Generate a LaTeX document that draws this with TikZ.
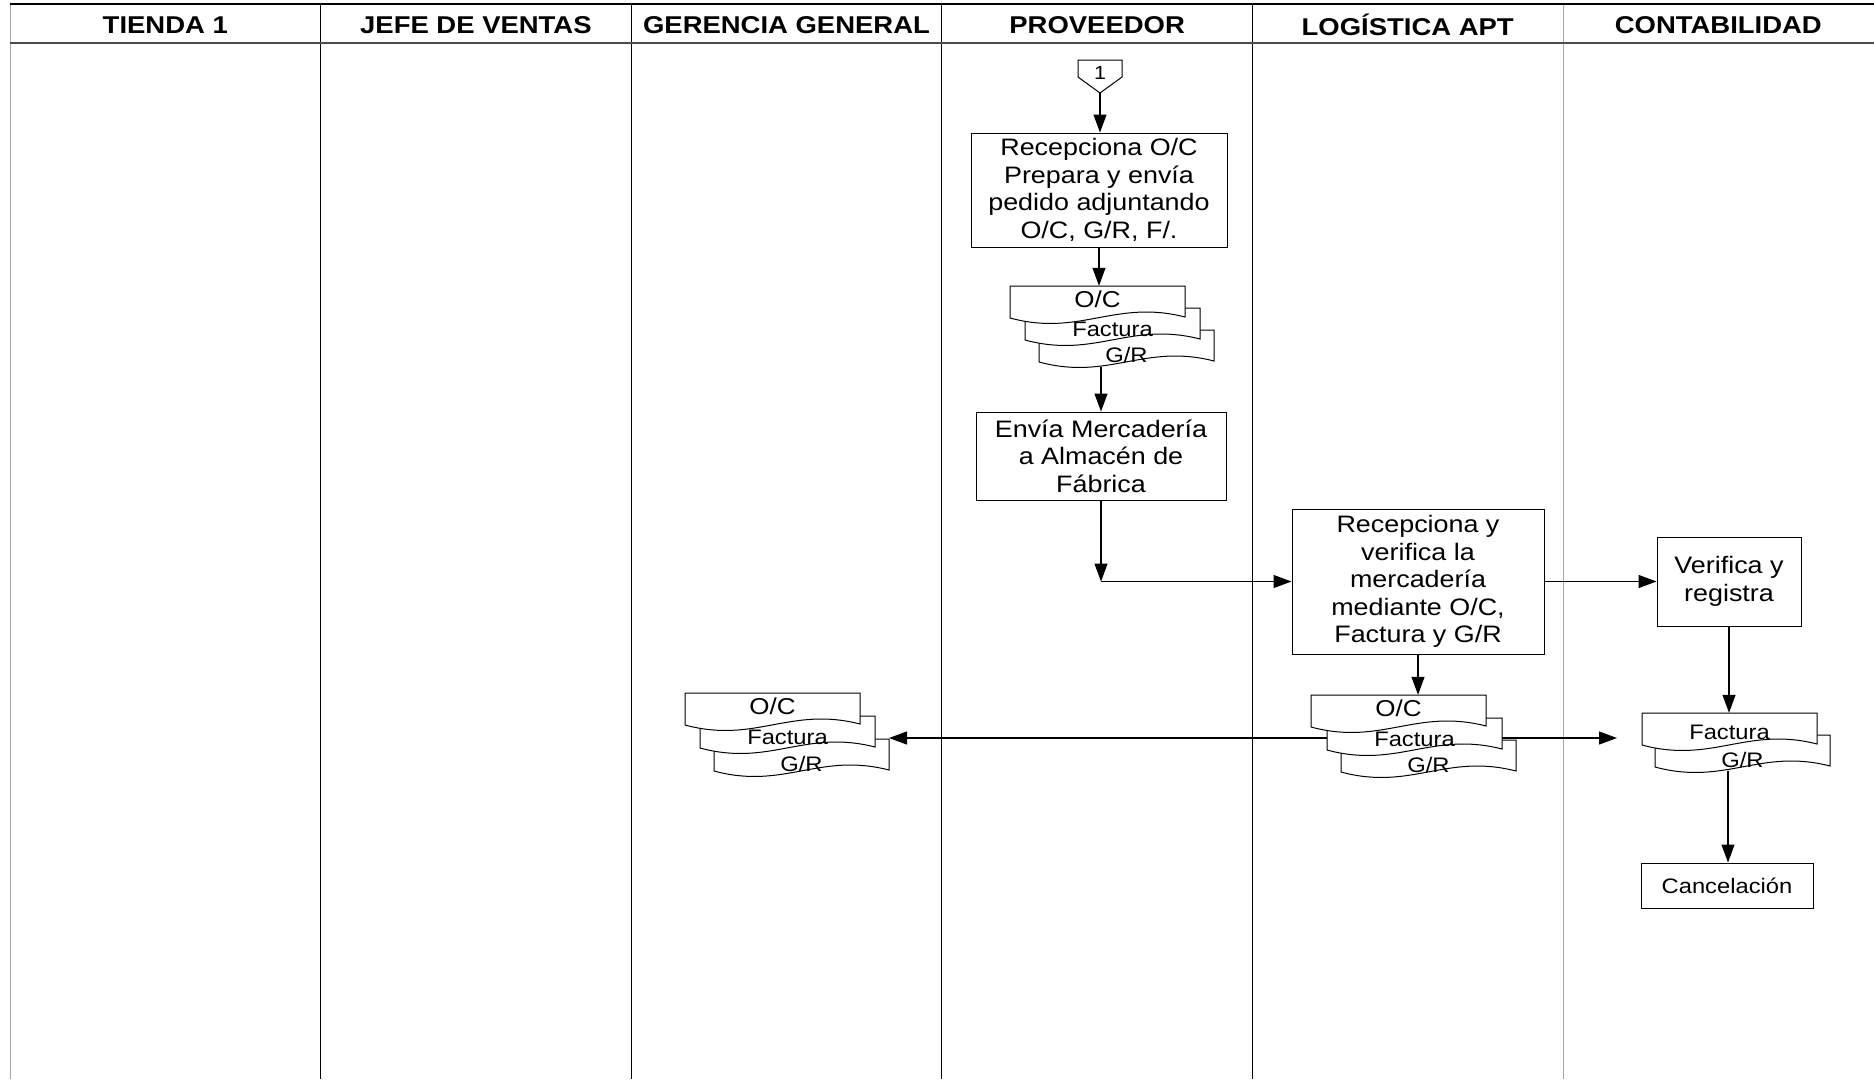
\documentclass[tikz,border=0pt]{standalone}
\usepackage{fontspec}
\setmainfont{Liberation Sans}[FakeStretch=1.13]
\usetikzlibrary{arrows.meta}

\newcommand\headfont{\fontsize{24.3}{27}\selectfont\bfseries}
\newcommand\bodyfont{\fontsize{23.8}{27.5}\selectfont}
\newcommand\docfont{\fontsize{21}{24}\selectfont}
\newcommand\docfontbig{\fontsize{23}{26}\selectfont}

\tikzset{
  lane/.style={line width=1pt, draw=black},
  lanelight/.style={line width=1pt, draw=black!35},
  headtext/.style={font=\headfont, anchor=center, inner sep=0pt},
  stepbox/.style={draw=black, line width=1pt, fill=white, align=center,
    font=\bodyfont, inner sep=0pt},
  docline/.style={draw=black, line width=1pt, fill=white},
  doclabel/.style={font=\docfont, inner sep=0pt, anchor=center},
  docarea/.style={inner sep=0pt, minimum width=175pt, minimum height=32pt},
  arr/.style={line width=1.1pt, -{Triangle[length=18pt,width=13pt]}},
}

% document symbol: name, left x, top y, label offset from top, label
\newcommand\docpage[5]{%
  \draw[docline] (#2,#3) -- (#2+175,#3) -- (#2+175,#3+31)
    .. controls (#2+105,#3+13) and (#2+70,#3+51) .. (#2,#3+32) -- cycle;
  \node[docarea] (#1) at (#2+87.5,#3+16) {};
  \node[doclabel] (#1-t) at (#2+87.5,#3+#4) {#5};
}

\begin{document}
\begin{tikzpicture}[x=1pt,y=-1pt]
  \fill[white] (0,0) rectangle (1874,1079);
  \useasboundingbox (0,0) rectangle (1874,1079);

  % swim lanes
  \draw[lanelight] (10,4) -- (10,1079);
  \draw[lane] (320.6,4) -- (320.6,1079);
  \draw[lane] (631.2,4) -- (631.2,1079);
  \draw[lane] (941.8,4) -- (941.8,1079);
  \draw[lane] (1252.4,4) -- (1252.4,1079);
  \draw[lanelight] (1563,4) -- (1563,1079);
  \draw[line width=2pt, black] (10,4) -- (1874,4);
  \draw[line width=2pt, black!70] (10,43) -- (1874,43);

  \node[headtext] (h1) at (165.3,25) {TIENDA 1};
  \node[headtext] (h2) at (475.9,25) {JEFE DE VENTAS};
  \node[headtext] (h3) at (786.5,25) {GERENCIA GENERAL};
  \node[headtext] (h4) at (1097.1,25) {PROVEEDOR};
  \node[headtext] (h5) at (1407.7,25) {LOGÍSTICA APT};
  \node[headtext] (h6) at (1718.3,25) {CONTABILIDAD};

  % off-page connector
  \draw[line width=1pt, fill=white] (1078,60) -- (1122,60) -- (1122,77)
    -- (1100,93) -- (1078,77) -- cycle;
  \node[inner sep=0pt, font=\fontsize{19}{22}\selectfont] (c1) at (1100,73) {1};
  \coordinate (c1tip) at (1100,93);

  % process steps
  \node[stepbox, minimum width=256pt, minimum height=114pt] (box1) at (1099,190)
    {Recepciona O/C\\Prepara y envía\\pedido adjuntando\\O/C, G/R, F/.};
  \node[stepbox, minimum width=250pt, minimum height=88pt] (box2) at (1101,456)
    {Envía Mercadería\\a Almacén de\\Fábrica};
  \node[stepbox, minimum width=252pt, minimum height=145pt] (box3) at (1418,581.5)
    {Recepciona y\\verifica la\\mercadería\\mediante O/C,\\Factura y G/R};
  \node[stepbox, minimum width=144pt, minimum height=89pt] (box4) at (1729,581.5)
    {Verifica y\\registra};
  \node[stepbox, font=\docfont, minimum width=172pt, minimum height=45pt] (cancel) at (1727,885.5)
    {Cancelación};

  % documents sent by the supplier
  \docpage{gr1}{1039}{330}{25}{G/R}
  \docpage{fa1}{1025}{308}{21}{Factura}
  \docpage{oc1}{1010}{286}{13}{\docfontbig O/C}

  % documents kept by management
  \docpage{gr2}{714}{739}{25}{G/R}
  \docpage{fa2}{700}{716}{21}{Factura}
  \docpage{oc2}{685}{693}{13}{\docfontbig O/C}

  % documents at the warehouse
  \docpage{gr3}{1341}{740}{25}{G/R}
  \docpage{fa3}{1327}{718}{21}{Factura}
  \docpage{oc3}{1311}{695}{13}{\docfontbig O/C}

  % documents in accounting
  \docpage{gr4}{1655}{735}{25}{G/R}
  \docpage{fa4}{1642}{713}{19}{Factura}

  % connectors
  \draw[arr] (c1tip) -- (c1tip |- box1.north);
  \draw[arr] (box1.south) -- (box1.south |- oc1.north);
  \coordinate (gr1b) at (1101,367);
  \draw[arr] (gr1b) -- (box2.north);
  \coordinate (bend) at (box2.south |- box3.west);
  \draw[arr] (box2.south) -- (bend);
  \draw[arr] (bend) -- (box3.west);
  \draw[arr] (box3.east) -- (box4.west);
  \draw[arr] (box3.south) -- (box3.south |- oc3.north);
  \draw[arr] (box4.south) -- (box4.south |- fa4.north);
  \coordinate (gr4b) at (1728,771);
  \draw[arr] (gr4b) -- (gr4b |- cancel.north);
  \coordinate (fa3w) at (1327,738);
  \coordinate (fa3e) at (1502,738);
  \coordinate (gr2e) at (889,738);
  \coordinate (out4) at (1617,738);
  \draw[arr] (fa3w) -- (gr2e);
  \draw[arr] (fa3e) -- (out4);
\end{tikzpicture}
\end{document}
